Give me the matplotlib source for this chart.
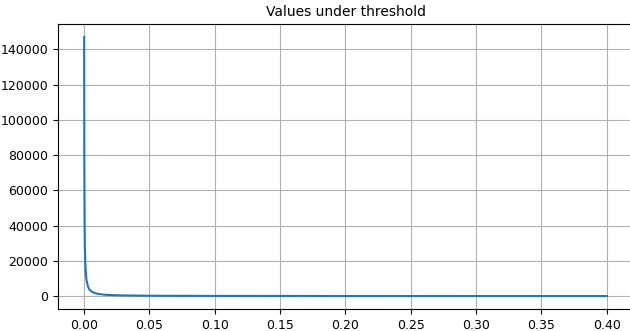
import matplotlib
matplotlib.use("Agg")
import matplotlib.pyplot as plt

x_vals = [0.00018, 0.0003, 0.0005, 0.00075, 0.001, 0.0015, 0.002, 0.003, 0.004, 0.005,
          0.007, 0.01, 0.015, 0.02, 0.03, 0.05, 0.1, 0.2, 0.3, 0.4]
y_vals = [147000, 82000, 45000, 28000, 20000, 12500, 9000, 5600, 4000, 3100,
          2100, 1350, 830, 590, 370, 200, 90, 40, 25, 18]

fig = plt.figure(figsize=(6.3, 3.31), dpi=100)
ax = fig.add_axes([58/630, 22/331, 575/630, 285/331])
ax.plot(x_vals, y_vals, color="#1f77b4", linewidth=1.5)
ax.set_title("Values under threshold", fontsize=10)
ax.grid(True)
ax.spines["right"].set_visible(False)
ax.set_xticks([0.0, 0.05, 0.1, 0.15, 0.2, 0.25, 0.3, 0.35, 0.4])
ax.set_yticks([0, 20000, 40000, 60000, 80000, 100000, 120000, 140000])
ax.tick_params(labelsize=9)
fig.savefig("out.png", dpi=100)
